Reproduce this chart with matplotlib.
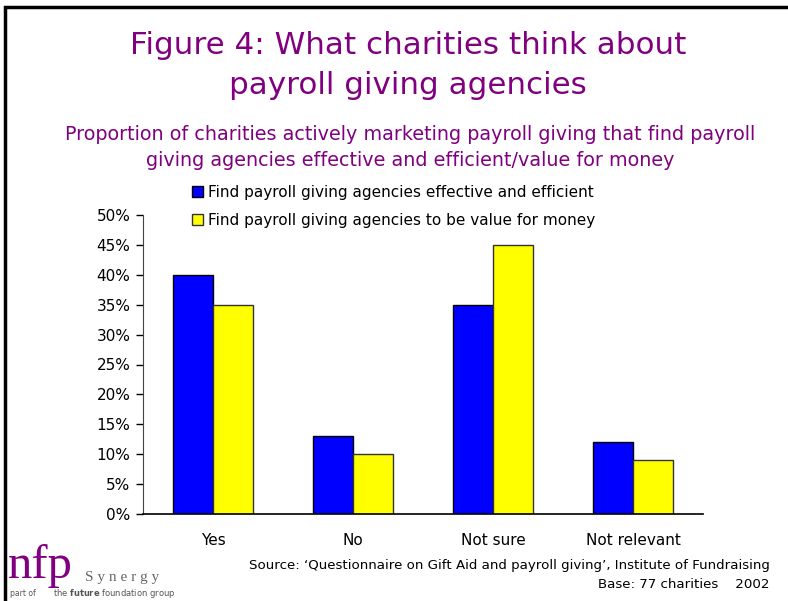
import matplotlib
matplotlib.use("Agg")
import matplotlib.pyplot as plt
from matplotlib.patches import Rectangle
import numpy as np

categories = ["Yes", "No", "Not sure", "Not relevant"]
effective = [40, 13, 35, 12]
value_for_money = [35, 10, 45, 9]
series_names = ["Find payroll giving agencies effective and efficient",
                "Find payroll giving agencies to be value for money"]
yticks = [0, 5, 10, 15, 20, 25, 30, 35, 40, 45, 50]

PURPLE = "#800080"
W, H = 788, 601
fig = plt.figure(figsize=(W / 100, H / 100), dpi=100)
fig.patch.set_facecolor("white")

def fx(px):
    return px / W

def fy(py):
    return 1 - py / H

# outer frame
fig.add_artist(Rectangle((fx(5), fy(H + 10)), 1.2, fy(7) - fy(H + 10),
                         transform=fig.transFigure, fill=False,
                         edgecolor="black", linewidth=2.5))

# titles
fig.text(fx(408), fy(45), "Figure 4: What charities think about",
         ha="center", va="center", fontsize=22.3, color=PURPLE)
fig.text(fx(408), fy(86), "payroll giving agencies",
         ha="center", va="center", fontsize=22.3, color=PURPLE)
fig.text(fx(410), fy(134),
         "Proportion of charities actively marketing payroll giving that find payroll",
         ha="center", va="center", fontsize=13.8, color=PURPLE)
fig.text(fx(410), fy(160),
         "giving agencies effective and efficient/value for money",
         ha="center", va="center", fontsize=13.8, color=PURPLE)

# chart
ax = fig.add_axes([fx(143), fy(514), fx(703) - fx(143), fy(215) - fy(514)])
x = np.arange(len(categories))
bw = 40 / 140
b1 = ax.bar(x - bw / 2, effective, bw, color="#0000ff", edgecolor="black",
            linewidth=1.0, label=series_names[0])
b2 = ax.bar(x + bw / 2, value_for_money, bw, color="#ffff00", edgecolor="#333333",
            linewidth=1.0, label=series_names[1])
ax.set_xlim(-0.5, len(categories) - 0.5)
ax.set_ylim(0, 50)
ax.set_yticks(yticks)
ax.set_yticklabels([f"{v}%" for v in yticks])
ax.set_xticks(x)
ax.set_xticklabels(categories)
ax.tick_params(axis="y", direction="out", length=5, width=1, labelsize=11, pad=4)
ax.tick_params(axis="x", length=0, labelsize=11, pad=14)
for s in ["top", "right"]:
    ax.spines[s].set_visible(False)
ax.spines["left"].set_color("#444444")
ax.spines["bottom"].set_linewidth(1.2)

leg = fig.legend(handles=[b1, b2], loc="upper left",
                 bbox_to_anchor=(fx(186), fy(179)), frameon=False,
                 fontsize=11, handlelength=0.7, handleheight=0.7,
                 handletextpad=0.35, labelspacing=0.85, borderaxespad=0)

# source note
fig.text(fx(770), fy(566),
         "Source: \u2018Questionnaire on Gift Aid and payroll giving\u2019, Institute of Fundraising",
         ha="right", va="center", fontsize=9.6)
fig.text(fx(770), fy(584), "Base: 77 charities    2002",
         ha="right", va="center", fontsize=9.6)

# logo
fig.text(fx(8), fy(578), "nfp", ha="left", va="baseline", fontsize=35,
         family="Liberation Serif", color=PURPLE)
fig.text(fx(85), fy(581), "S y n e r g y", ha="left", va="baseline", fontsize=11,
         family="Liberation Serif", color="#666666")
fig.text(fx(10), fy(596), "part of", ha="left", va="baseline", fontsize=5.5,
         color="#555555")
fig.text(fx(53), fy(596), "the $\\mathbf{future}$ foundation group", ha="left",
         va="baseline", fontsize=6, color="#555555")

fig.savefig("out.png", dpi=100, facecolor="white")
